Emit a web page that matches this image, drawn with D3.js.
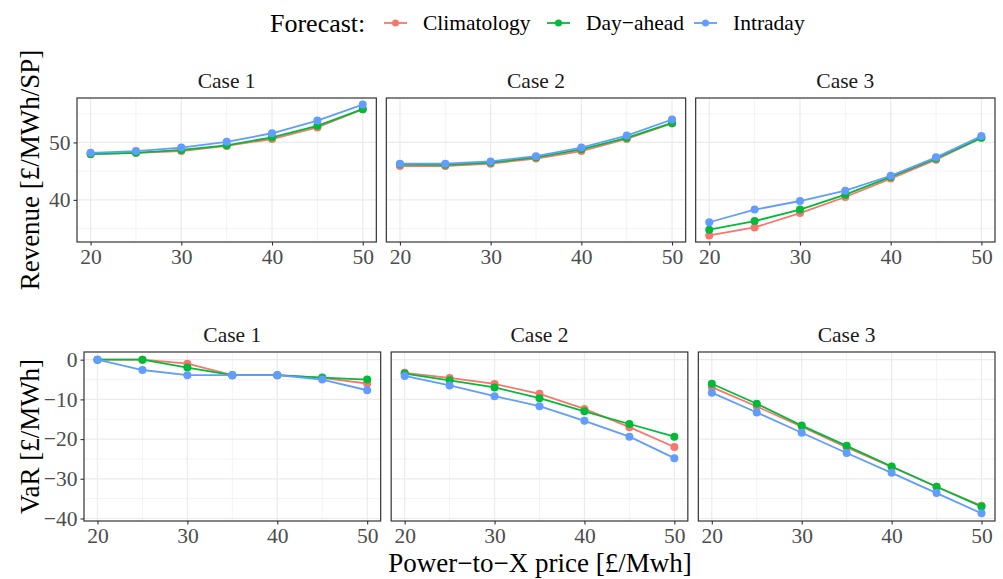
<!DOCTYPE html>
<html>
<head>
<meta charset="utf-8">
<script src="https://cdn.jsdelivr.net/npm/d3@7"></script>
<style>
  body { margin: 0; background: #fff; }
  svg, svg text { font-family: "Liberation Serif", "Times New Roman", serif; }
</style>
</head>
<body>
<svg width="1003" height="579"></svg>
<script>
// x values (Power-to-X price)
const prices = [20, 25, 30, 35, 40, 45, 50];
const cases = ["Case 1", "Case 2", "Case 3"];
const forecasts = ["Climatology", "Day\u2212ahead", "Intraday"];

// revenue [£/MWh/SP]
const revCase1Clim = [47.95, 48.2, 48.5, 49.4, 50.6, 52.6, 55.8];
const revCase1Day = [47.97, 48.2, 48.7, 49.5, 50.9, 52.9, 55.8];
const revCase1Intra = [48.2, 48.5, 49.1, 50.1, 51.6, 53.8, 56.6];
const revCase2Clim = [45.9, 45.9, 46.3, 47.2, 48.5, 50.6, 53.3];
const revCase2Day = [46.2, 46.1, 46.5, 47.4, 48.8, 50.8, 53.4];
const revCase2Intra = [46.3, 46.3, 46.7, 47.6, 49.1, 51.2, 54.0];
const revCase3Clim = [33.8, 35.2, 37.7, 40.5, 43.7, 47.0, 50.8];
const revCase3Day = [34.8, 36.3, 38.3, 40.9, 44.0, 47.2, 50.8];
const revCase3Intra = [36.1, 38.3, 39.8, 41.6, 44.2, 47.4, 51.1];

// VaR [£/MWh]
const varCase1Clim = [0, 0, -1.0, -3.9, -3.9, -4.6, -6.0];
const varCase1Day = [0, 0, -2.0, -3.9, -3.9, -4.5, -5.0];
const varCase1Intra = [0, -2.6, -3.9, -3.9, -3.9, -5.0, -7.7];
const varCase2Clim = [-3.3, -4.6, -6.1, -8.6, -12.4, -17.0, -22.0];
const varCase2Day = [-3.5, -5.2, -7.0, -9.7, -13.0, -16.2, -19.4];
const varCase2Intra = [-4.1, -6.5, -9.2, -11.7, -15.4, -19.4, -24.8];
const varCase3Clim = [-6.9, -11.8, -16.9, -22.1, -27.0, -32.0, -36.8];
const varCase3Day = [-6.05, -11.1, -16.6, -21.7, -26.9, -32.0, -37.0];
const varCase3Intra = [-8.3, -13.3, -18.4, -23.5, -28.5, -33.6, -38.7];

// axis ticks
const priceTicks = [20, 30, 40, 50];
const priceMinor = [25, 35, 45];
const revTicks = [40, 50];
const revMinor = [35, 45, 55];
const varTicks = [0, -10, -20, -30, -40];
const varMinor = [-5, -15, -25, -35];

const colors = ["#F8766D", "#00BA38", "#619CFF"];

const revenue = [
  [revCase1Clim, revCase1Day, revCase1Intra],
  [revCase2Clim, revCase2Day, revCase2Intra],
  [revCase3Clim, revCase3Day, revCase3Intra]
];
const valueAtRisk = [
  [varCase1Clim, varCase1Day, varCase1Intra],
  [varCase2Clim, varCase2Day, varCase2Intra],
  [varCase3Clim, varCase3Day, varCase3Intra]
];

const svg = d3.select("svg");
const serif = "'Liberation Serif', 'Times New Roman', serif";
const fmt = d => String(d).replace("-", "\u2212");

// ggplot-like 5% expansion
const expand = ext => {
  const pad = (ext[1] - ext[0]) * 0.05;
  return [ext[0] - pad, ext[1] + pad];
};

const x = d3.scaleLinear().domain(expand(d3.extent(prices)));

function styleAxis(sel) {
  sel.attr("font-family", null).attr("font-size", null);
  sel.select(".domain").remove();
  sel.selectAll("line").attr("stroke", "#333333").attr("stroke-width", 1.1);
  sel.selectAll("text")
    .attr("fill", "#4D4D4D")
    .style("font-family", serif)
    .style("font-size", "21.5px");
}

function drawRow(opts) {
  const { data, left, right, top, bottom, gap, majors, minors, title, titleY } = opts;
  const pw = (right - left - 2 * gap) / 3;
  const all = data.flat(2);
  const y = d3.scaleLinear().domain(expand(d3.extent(all))).range([bottom, top]);

  data.forEach((caseSeries, ci) => {
    const x0 = left + ci * (pw + gap);
    const xs = x.copy().range([x0, x0 + pw]);
    const g = svg.append("g");

    // grid
    const grid = g.append("g");
    grid.selectAll(".vmin").data(priceMinor).join("line")
      .attr("x1", d => xs(d)).attr("x2", d => xs(d))
      .attr("y1", top).attr("y2", bottom)
      .attr("stroke", "#EBEBEB").attr("stroke-width", 0.6);
    grid.selectAll(".hmin").data(minors).join("line")
      .attr("y1", d => y(d)).attr("y2", d => y(d))
      .attr("x1", x0).attr("x2", x0 + pw)
      .attr("stroke", "#EBEBEB").attr("stroke-width", 0.6);
    grid.selectAll(".vmaj").data(priceTicks).join("line")
      .attr("x1", d => xs(d)).attr("x2", d => xs(d))
      .attr("y1", top).attr("y2", bottom)
      .attr("stroke", "#EBEBEB").attr("stroke-width", 1.2);
    grid.selectAll(".hmaj").data(majors).join("line")
      .attr("y1", d => y(d)).attr("y2", d => y(d))
      .attr("x1", x0).attr("x2", x0 + pw)
      .attr("stroke", "#EBEBEB").attr("stroke-width", 1.2);

    // series
    const line = d3.line().x((d, i) => xs(prices[i])).y(d => y(d));
    caseSeries.forEach((vals, si) => {
      g.append("path").datum(vals)
        .attr("d", line)
        .attr("fill", "none")
        .attr("stroke", colors[si])
        .attr("stroke-width", 1.8);
      g.selectAll(null).data(vals).join("circle")
        .attr("cx", (d, i) => xs(prices[i]))
        .attr("cy", d => y(d))
        .attr("r", 4)
        .attr("fill", colors[si]);
    });

    // border
    g.append("rect")
      .attr("x", x0).attr("y", top)
      .attr("width", pw).attr("height", bottom - top)
      .attr("fill", "none").attr("stroke", "#333333").attr("stroke-width", 1.2);

    // x axis
    g.append("g")
      .attr("transform", `translate(0,${bottom})`)
      .call(d3.axisBottom(xs).tickValues(priceTicks).tickSize(3.5).tickPadding(3))
      .call(styleAxis);

    // y axis only on first panel
    if (ci === 0) {
      g.append("g")
        .attr("transform", `translate(${x0},0)`)
        .call(d3.axisLeft(y).tickValues(majors).tickSize(3.5).tickPadding(3).tickFormat(fmt))
        .call(styleAxis);
    }

    // strip
    g.append("text")
      .attr("x", x0 + pw / 2)
      .attr("y", top - 10)
      .attr("text-anchor", "middle")
      .style("font-family", serif)
      .style("font-size", "21.5px")
      .attr("fill", "#1A1A1A")
      .text(cases[ci]);
  });

  svg.append("text")
    .attr("transform", `translate(${titleY},${(top + bottom) / 2}) rotate(-90)`)
    .attr("text-anchor", "middle")
    .attr("dominant-baseline", "central")
    .style("font-family", serif)
    .style("font-size", "27px")
    .attr("fill", "#000")
    .text(title);
}

drawRow({
  data: revenue, left: 77, right: 995, top: 98, bottom: 242, gap: 10,
  majors: revTicks, minors: revMinor, title: "Revenue [\u00A3/MWh/SP]", titleY: 30
});
drawRow({
  data: valueAtRisk, left: 84, right: 995, top: 352, bottom: 521, gap: 10.5,
  majors: varTicks, minors: varMinor, title: "VaR [\u00A3/MWh]", titleY: 30
});

// x axis title
svg.append("text")
  .attr("x", 540)
  .attr("y", 572)
  .attr("text-anchor", "middle")
  .style("font-family", serif)
  .style("font-size", "27px")
  .text("Power\u2212to\u2212X price [\u00A3/Mwh]");

// legend
const legend = svg.append("g").attr("transform", "translate(0,23)");
legend.append("text")
  .attr("x", 270).attr("y", 0)
  .attr("dominant-baseline", "central")
  .style("font-family", serif)
  .style("font-size", "26px")
  .text("Forecast:");
const keyX = [384, 547, 694];
forecasts.forEach((f, i) => {
  const k = legend.append("g").attr("transform", `translate(${keyX[i]},0)`);
  k.append("line").attr("x1", 0).attr("x2", 23).attr("y1", 0).attr("y2", 0)
    .attr("stroke", colors[i]).attr("stroke-width", 1.8);
  k.append("circle").attr("cx", 11.5).attr("cy", 0).attr("r", 3.5).attr("fill", colors[i]);
  k.append("text").attr("x", 39).attr("y", 0)
    .attr("dominant-baseline", "central")
    .style("font-family", serif)
    .style("font-size", "21.5px")
    .text(f);
});
</script>
</body>
</html>
